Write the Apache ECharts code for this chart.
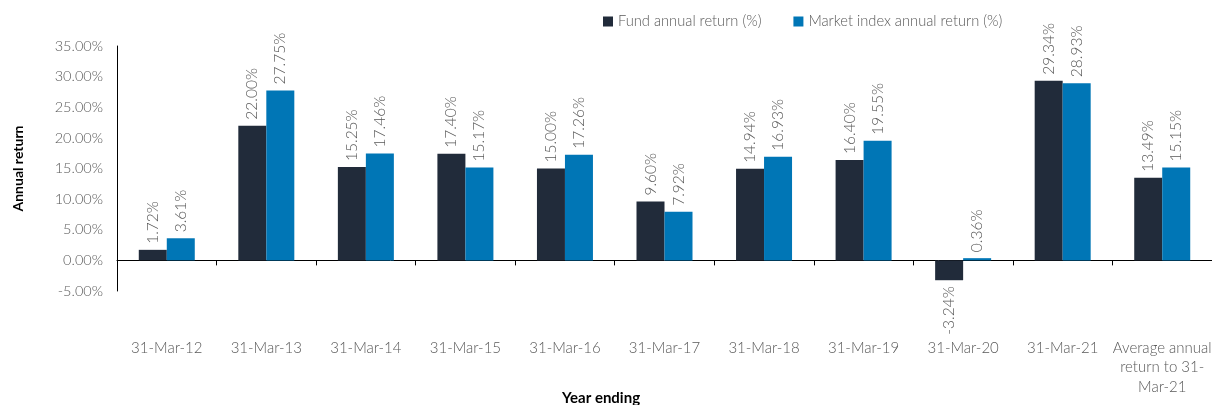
<!DOCTYPE html>
<html>
<head>
<meta charset="utf-8">
<script src="https://cdn.jsdelivr.net/npm/echarts@6/dist/echarts.min.js"></script>
<style>
html, body { margin: 0; padding: 0; background: #fff; }
#chart { width: 1212px; height: 405px; }
</style>
</head>
<body>
<div id="chart"></div>
<script>
var categories = ['31-Mar-12', '31-Mar-13', '31-Mar-14', '31-Mar-15', '31-Mar-16', '31-Mar-17',
  '31-Mar-18', '31-Mar-19', '31-Mar-20', '31-Mar-21', 'Average annual\nreturn to 31-\nMar-21']
var fundReturn = [1.72, 22.00, 15.25, 17.40, 15.00, 9.60, 14.94, 16.40, -3.24, 29.34, 13.49]
var marketReturn = [3.61, 27.75, 17.46, 15.17, 17.26, 7.92, 16.93, 19.55, 0.36, 28.93, 15.15]
var seriesNames = ['Fund annual return (%)', 'Market index annual return (%)']
var colors = ['#212b3a', '#0076b6']

var textColor = '#595959'
var font = 'Lato'

// negative bars get the label underneath, reading towards the bar
function toItems (arr) {
  return arr.map(function (v) {
    if (v < 0) {
      return { value: v, label: { position: 'bottom', align: 'right' } }
    }
    return v
  })
}

function barSeries (name, arr, color) {
  return {
    name: name,
    type: 'bar',
    data: toItems(arr),
    barWidth: 28,
    barGap: '0%',
    itemStyle: { color: color },
    label: {
      show: true,
      position: 'top',
      rotate: 90,
      align: 'left',
      verticalAlign: 'middle',
      distance: 6,
      color: textColor,
      fontFamily: font,
      fontWeight: 300,
      fontSize: 15.5,
      formatter: function (p) { return p.value.toFixed(2) + '%' }
    }
  }
}

var chart = echarts.init(document.getElementById('chart'))
chart.setOption({
  animation: false,
  color: colors,
  textStyle: { fontFamily: font },
  title: {
    text: 'Year ending',
    left: 562,
    top: 391,
    padding: 0,
    textStyle: { fontFamily: font, fontSize: 15, fontWeight: 'bold', color: '#000' }
  },
  legend: {
    top: 14,
    left: 603,
    padding: 0,
    itemWidth: 10,
    itemHeight: 10,
    itemGap: 32,
    icon: 'rect',
    textStyle: { color: textColor, fontFamily: font, fontWeight: 300, fontSize: 14.7 },
    data: seriesNames
  },
  grid: { left: 117, right: 0, top: 46, bottom: 114, containLabel: false, outerBoundsMode: 'none' },
  xAxis: {
    type: 'category',
    data: categories,
    axisLine: { onZero: true, lineStyle: { color: '#000', width: 1 } },
    axisTick: { show: true, length: 5, lineStyle: { color: '#000' } },
    axisLabel: {
      margin: 47,
      color: textColor,
      fontFamily: font,
      fontWeight: 300,
      fontSize: 15,
      lineHeight: 19.5,
      interval: 0
    }
  },
  yAxis: {
    type: 'value',
    min: -5,
    max: 35,
    interval: 5,
    name: 'Annual return',
    nameLocation: 'middle',
    nameGap: 92,
    nameTextStyle: { fontFamily: font, fontSize: 14, fontWeight: 'bold', color: '#000' },
    axisLine: { show: true, lineStyle: { color: '#000', width: 1 } },
    axisTick: { show: false },
    splitLine: { show: false },
    axisLabel: {
      margin: 14,
      color: textColor,
      fontFamily: font,
      fontWeight: 300,
      fontSize: 14.5,
      formatter: function (v) { return v.toFixed(2) + '%' }
    }
  },
  series: [
    barSeries(seriesNames[0], fundReturn, colors[0]),
    barSeries(seriesNames[1], marketReturn, colors[1])
  ]
})
</script>
</body>
</html>
